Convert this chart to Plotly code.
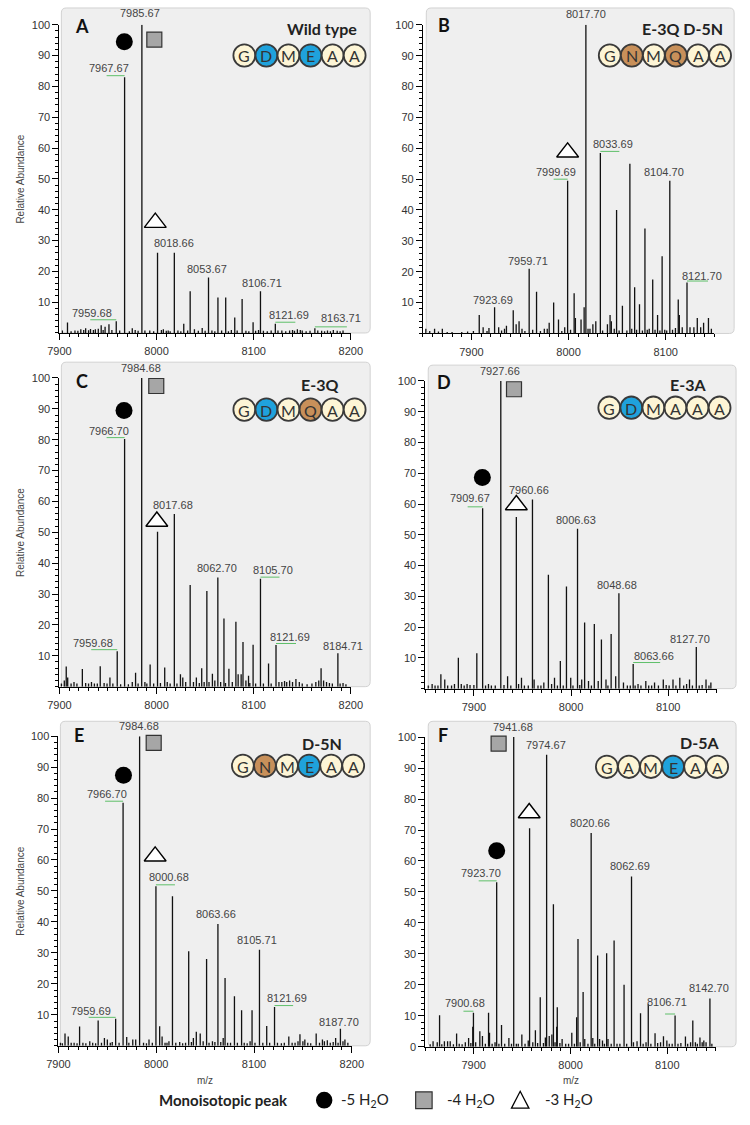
import plotly.graph_objects as go

W, H = 750, 1125

# ------------------------------------------------------------------ data
A_mz = [7903, 7908.3, 7912, 7916, 7919, 7922, 7925, 7927, 7930, 7932, 7935, 7937, 7940, 7943, 7945, 7947, 7951, 7954,
        7958.5, 7962, 7967.1, 7972, 7975, 7978, 7981, 7984.9, 7988, 7993, 7997, 8001, 8005, 8007, 8010, 8012, 8014,
        8018.3, 8022, 8025, 8028, 8032, 8034.6, 8039, 8043, 8047, 8050, 8053.5, 8057, 8060, 8063.2, 8067, 8071.2,
        8074, 8077, 8080.5, 8083, 8088.1, 8092, 8095, 8099.4, 8102, 8105, 8107, 8110, 8114, 8118, 8122.3, 8125,
        8129, 8133, 8137, 8140, 8142, 8145, 8148, 8150, 8154, 8158, 8163, 8166, 8170, 8173, 8176, 8179, 8182, 8186,
        8189, 8192]
A_int = [0.8, 3.4, 0.6, 0.8, 0.7, 1.2, 1.0, 1.5, 0.9, 1.3, 1.0, 1.2, 1.4, 2.5, 1.0, 2.0, 2.8, 1.0,
         3.8, 0.8, 83, 0.6, 1.5, 1.0, 0.7, 100, 0.8, 0.8, 0.6, 26, 1.0, 1.2, 0.7, 0.8, 0.6,
         26, 0.8, 0.6, 3, 0.8, 13.5, 1.2, 0.7, 1.6, 0.7, 18, 0.8, 0.6, 11.5, 0.8, 11.5,
         0.6, 1.0, 5, 0.8, 11, 0.7, 0.6, 3.5, 0.7, 1.0, 13.5, 0.7, 0.6, 0.8, 3, 0.8,
         0.8, 0.6, 0.8, 1.0, 0.7, 1.2, 1.0, 0.8, 0.6, 0.7, 1.5, 0.8, 0.7, 0.6, 0.8, 0.6, 1.0, 0.7,
         0.6, 0.8]
A_labels = ["7985.67", "7967.67", "8018.66", "8053.67", "8106.71", "8121.69", "8163.71", "7959.68"]
A_label_mz = [7984.9, 7967.1, 8018.3, 8053.5, 8107, 8122.3, 8163, 7958.5]

B_mz = [7853, 7857, 7862, 7866, 7870, 7875, 7880, 7890, 7896, 7902, 7908, 7912, 7916, 7918, 7923.8, 7928, 7931,
        7934, 7936, 7943, 7946, 7949, 7952, 7955, 7959.4, 7963, 7967, 7971, 7975, 7978, 7980, 7984.6, 7989.6, 7993,
        7996, 7999, 8002, 8005.7, 8007, 8012.8, 8016, 8017.8, 8020, 8022, 8025, 8028, 8032.7, 8035, 8040, 8042.7,
        8044, 8047, 8049.4, 8052, 8055.4, 8060, 8063.1, 8065, 8068, 8070, 8073, 8076, 8078.6, 8081, 8083, 8086.6,
        8089, 8091.6, 8094, 8096.3, 8099, 8101, 8104.2, 8107, 8110, 8112.9, 8114, 8117, 8121.9, 8125, 8129, 8132.5,
        8136, 8139, 8144, 8147]
B_int = [1.5, 0.8, 1.5, 0.6, 1.5, 0.5, 0.5, 0.5, 0.6, 0.8, 6, 2, 0.8, 1.8, 8.5, 2, 1.0,
         1.5, 2.5, 7.5, 3, 4, 1.5, 0.8, 21, 1.2, 13.5, 0.8, 1.5, 1.5, 3.5, 10, 4.5, 0.8,
         2, 49.5, 1.2, 13, 5, 4.5, 8.5, 100, 1.5, 1.5, 3, 4, 58.5, 1.0, 3, 6,
         4, 1.5, 40, 1.0, 9, 1.0, 55, 1.5, 15, 1.2, 9.5, 1.0, 34, 1.2, 1.5, 17.5,
         1.2, 6, 1.0, 25, 1.2, 1.0, 49.5, 1.2, 1.8, 11, 6, 2, 16.5, 2, 2, 5,
         2, 3.5, 5, 1.5]
B_labels = ["8017.70", "8033.69", "7999.69", "8104.70", "7959.71", "7923.69", "8121.70"]
B_label_mz = [8017.8, 8032.7, 7999, 8104.2, 7959.4, 7923.8, 8121.9]

C_mz = [7902, 7905, 7907, 7908.5, 7912, 7915, 7918, 7923.6, 7927, 7930, 7933, 7936, 7939, 7942, 7946, 7949, 7952,
        7955, 7959.5, 7963, 7967.1, 7971, 7975, 7978.4, 7981, 7984.7, 7988, 7990, 7993.4, 7997, 8001, 8004, 8008.4,
        8011, 8014, 8018.3, 8021, 8024.6, 8027, 8030, 8034.6, 8038, 8041, 8044, 8046.5, 8049, 8051.8, 8054, 8057.5,
        8060, 8063.1, 8066, 8069.4, 8071, 8074.5, 8078, 8081.7, 8084, 8087.1, 8089, 8092, 8094.7, 8096, 8099.4,
        8102, 8107, 8110, 8115.3, 8118, 8123, 8126, 8129, 8131.8, 8134, 8137, 8140, 8143.5, 8147, 8150, 8155, 8160,
        8164, 8167, 8169.4, 8172, 8175, 8178, 8181, 8186.7, 8189, 8192, 8195]
C_int = [1, 2, 6.5, 3, 1, 1.5, 1, 5.7, 1.2, 1, 1.5, 1, 1, 6.6, 1.2, 1, 3,
         1, 11.5, 0.8, 80.2, 0.8, 1.5, 4.5, 1, 100, 1.5, 1, 7.2, 1, 50.2, 1.2, 6.2,
         1.5, 1, 55.9, 1, 4, 3, 1.5, 32.9, 1.5, 3, 1.2, 6, 1.5, 31, 1.5, 4.2,
         2, 35.4, 1.5, 22.1, 1.2, 5.8, 1.5, 21, 4, 4, 14.5, 2, 3.5, 1.2, 13.6,
         1, 35, 1, 7.5, 1, 13.5, 1.5, 1.5, 1.8, 1.5, 2, 1.5, 2.5, 1.5, 1, 0.8, 1,
         1.5, 2, 6, 2, 1.5, 1.2, 1, 10.8, 1, 1.2, 0.8]
C_labels = ["7984.68", "7966.70", "8017.68", "8062.70", "8105.70", "8121.69", "8184.71", "7959.68"]
C_label_mz = [7984.7, 7967.1, 8018.3, 8063.1, 8107, 8123, 8186.7, 7959.5]

D_mz = [7853, 7857, 7860, 7863, 7866, 7870, 7873, 7877, 7880, 7884, 7887, 7890, 7893, 7896, 7900, 7903, 7909,
        7912, 7915, 7918, 7922, 7927.7, 7931, 7934.7, 7938, 7943.7, 7946, 7949, 7952, 7956, 7960.3, 7962, 7966,
        7969, 7972, 7976.7, 7980, 7983, 7986, 7989, 7992, 7995.3, 7999.7, 8002, 8006.7, 8009, 8011, 8014, 8018,
        8021, 8024, 8028, 8031.3, 8036, 8038, 8041.3, 8046, 8049.3, 8054, 8058, 8061, 8064, 8066, 8069, 8072,
        8077, 8080, 8083, 8086, 8090, 8095, 8098, 8101, 8105, 8108, 8112, 8116, 8119, 8122, 8125, 8129, 8132,
        8135, 8139, 8142, 8144]
D_int = [1, 1.5, 1, 1, 4.7, 3, 1, 1, 1.5, 10, 1.5, 1, 1.5, 1.2, 1.2, 11.5, 58.6,
         1, 1.5, 1, 1, 100, 1.2, 4, 1, 55.8, 1.5, 3.5, 1, 1, 61.5, 3, 1,
         1, 2, 37, 1.5, 3.5, 1, 9, 1, 33.2, 3.5, 1, 52, 1.2, 3, 21.5, 2.5,
         1, 21, 2.5, 16, 3, 1, 17.8, 4, 31, 2, 1, 1, 8, 1, 1.5, 1,
         2.5, 1, 1, 2, 1, 3, 1.2, 1, 3, 1, 3.5, 1, 1.5, 3, 1, 13.5, 1,
         1.2, 3, 1, 2]
D_labels = ["7927.66", "7909.67", "7960.66", "8006.63", "8048.68", "8127.70", "8063.66"]
D_label_mz = [7927.7, 7909, 7960.3, 8006.7, 8049.3, 8129, 8064]

E_mz = [7902, 7904, 7906.7, 7910, 7913, 7916, 7919, 7921.6, 7925, 7928, 7932, 7935, 7938, 7940.6, 7944, 7947, 7950,
        7953, 7955, 7958.5, 7962, 7966.1, 7969.8, 7972, 7976, 7979, 7983, 7987, 7990, 7992.6, 7996, 7999.7, 8003.5,
        8006, 8009, 8011, 8013, 8016.6, 8020, 8024, 8027, 8030, 8033.2, 8036, 8038, 8041, 8045, 8048, 8051.5, 8054,
        8057.5, 8060, 8063.1, 8066, 8068.5, 8070.4, 8073, 8076, 8080, 8083, 8087.3, 8090, 8093, 8096, 8098, 8101,
        8105.6, 8109, 8113, 8116, 8121, 8124, 8128, 8131, 8135.6, 8139, 8142, 8145, 8147, 8150, 8152, 8155, 8158,
        8163.6, 8167, 8170, 8172, 8175, 8178, 8181, 8183.5, 8186, 8188.4, 8191, 8193, 8196]
E_int = [1, 0.8, 4, 3, 1, 1, 0.8, 6.2, 1, 0.8, 1.5, 1, 0.8, 8.2, 1, 2.5, 2,
         1, 1.2, 8.7, 1, 78.5, 2.8, 1, 2, 2, 100, 1, 0.8, 2, 1, 51.5, 6.3,
         3, 1, 1, 1.5, 48.3, 1, 1.2, 0.8, 1, 30.5, 1.2, 2.5, 4.5, 4, 1.5, 28, 1,
         1.5, 1.2, 39.3, 1.2, 2.5, 21.9, 1, 1, 16, 1, 11.5, 1, 0.8, 1.5, 11.5, 1,
         31, 1, 6.4, 1, 12.5, 1, 0.8, 1, 3, 1, 1, 1.5, 3.7, 1.5, 2, 1, 0.8,
         4, 1, 2, 1.5, 1.8, 1, 1.2, 2.5, 1, 5.5, 1.5, 2, 1]
E_labels = ["7984.68", "7966.70", "8000.68", "8063.66", "8105.71", "8121.69", "7959.69", "8187.70"]
E_label_mz = [7983, 7966.1, 7999.7, 8063.1, 8105.6, 8121, 7958.5, 8188.4]

F_mz = [7855, 7858, 7862.3, 7864.7, 7867, 7869.7, 7873, 7875.7, 7879, 7882.3, 7885, 7888, 7891.3, 7894.7, 7897,
        7899, 7899.7, 7902, 7906.3, 7909, 7912, 7915.3, 7916.3, 7919, 7922, 7923.7, 7926, 7928.7, 7932, 7936.3,
        7939, 7941.3, 7944, 7946, 7949.7, 7953, 7956.3, 7957.7, 7961, 7963.7, 7966, 7968.7, 7972, 7974, 7975.3,
        7978, 7980.7, 7982.3, 7984, 7985.7, 7986.3, 7989, 7991.3, 7995, 7998, 8001.3, 8004, 8006.3, 8007.7, 8010,
        8013, 8014.7, 8018, 8021.3, 8023, 8025, 8028, 8030, 8033, 8035, 8037.3, 8038.7, 8042, 8045, 8048, 8051,
        8055.3, 8058, 8063, 8065, 8068.7, 8072.3, 8075, 8078, 8080.3, 8083, 8087.3, 8090, 8093, 8096, 8099.5,
        8102, 8105, 8108, 8111, 8114, 8118.7, 8121, 8124, 8126.3, 8129, 8131, 8133.7, 8136, 8137.7, 8140, 8144,
        8146]
F_int = [0.8, 1.8, 1.5, 10.2, 0.8, 1.8, 1.8, 1.8, 0.8, 4.3, 1, 0.8, 1.5, 2.8, 1.2,
         6.5, 11, 1.5, 5, 3.5, 1, 11, 4.5, 1, 1.5, 53.1, 1, 7, 1, 2.8,
         1, 100, 1, 1, 4, 1, 2, 70.6, 1.5, 5.3, 1.2, 16, 1.2, 3, 94.3,
         3.5, 4, 46, 1.5, 6.5, 12.8, 1.2, 2.5, 1, 1, 4.5, 1, 9.5, 34.8, 1.5,
         17.7, 2.5, 1, 69, 2.8, 1, 29.5, 2.5, 2, 1, 30.2, 2.5, 1, 34.3, 1, 1,
         20, 1, 55, 1.5, 1.8, 10.8, 1, 1.5, 13.7, 1, 4.4, 1.2, 1.5, 3.4, 2,
         1, 1, 10.1, 1, 1.2, 3.3, 1, 1.5, 8.5, 1.5, 1, 3, 1.5, 2, 1.5, 15.6,
         1]
F_labels = ["7941.68", "7974.67", "8020.66", "8062.69", "7923.70", "7900.68", "8106.71", "8142.70"]
F_label_mz = [7941.3, 7975.3, 8021.3, 8063, 7923.7, 7899.7, 8108, 8144]

panel_letters = ["A", "B", "C", "D", "E", "F"]
panel_titles = ["Wild type", "E-3Q D-5N", "E-3Q", "E-3A", "D-5N", "D-5A"]
sequences = [list("GDMEAA"), list("GNMQAA"), list("GDMQAA"), list("GDMAAA"), list("GNMEAA"), list("GAMEAA")]

# ------------------------------------------------------------------ styles / layout (pixels)
CREAM, BLUE, BROWN = "#FDF5D6", "#1FA2DC", "#C8905A"
res_color = {"D": BLUE, "E": BLUE, "N": BROWN, "Q": BROWN}


def fx(px):
    return px / W


def fy(py):
    return 1 - py / H


panels = [
    dict(mz=A_mz, inten=A_int, labels=A_labels, label_mz=A_label_mz,
         dx=[-2, -16, 0, -2, 1.5, 14, 26, -24], dy=[12, 9, 9.5, 8.5, 8.5, 8.5, 10, 8],
         xr=(7900, 8200), xpx=(49, 350), ypx=(330.5, 19), box=(51, 2, 370, 330.5),
         letter=(72, 20), title_pos=(320, 23), seq_pos=(240, 50),
         markers=[("circle", 7966.8, 94.5), ("square", 7997.7, 95.2), ("triangle", 7998.7, 35.8)],
         ytitle=True, xtitle=False, zero=False),
    dict(mz=B_mz, inten=B_int, labels=B_labels, label_mz=B_label_mz,
         dx=[0, 13, -12, -6, -1, -2, 15], dy=[11, 9, 9, 9, 7.5, 7, 7],
         xr=(7850, 8150), xpx=(424.5, 725.5), ypx=(331, 19), box=(428, 2, 746, 331),
         letter=(446, 19), title_pos=(693, 23), seq_pos=(617.5, 50),
         markers=[("triangle", 7999, 58.7)],
         ytitle=False, xtitle=False, zero=False),
    dict(mz=C_mz, inten=C_int, labels=C_labels, label_mz=C_label_mz,
         dx=[-1, -16, -1, -1, 13, 14, 5, -24], dy=[9.5, 8.5, 9, 9, 9, 7.5, 7, 8],
         xr=(7900, 8200), xpx=(49, 350), ypx=(688, 376), box=(51, 360, 370, 688),
         letter=(72, 379), title_pos=(318, 383), seq_pos=(240, 408),
         markers=[("circle", 7966.5, 89.5), ("square", 7999.7, 97.4), ("triangle", 8000.3, 53.5)],
         ytitle=True, xtitle=False, zero=False),
    dict(mz=D_mz, inten=D_int, labels=D_labels, label_mz=D_label_mz,
         dx=[-1, -13, -3, -2, -2, -6, 21], dy=[10, 10, 9, 9, 8, 8, 8],
         xr=(7850, 8150), xpx=(427, 728), ypx=(690, 379), box=(430, 363, 748, 690),
         letter=(446, 380), title_pos=(698, 383), seq_pos=(617, 406),
         markers=[("circle", 7908.7, 68.6), ("square", 7941.3, 97.3), ("triangle", 7943.7, 59.7)],
         ytitle=False, xtitle=False, zero=False),
    dict(mz=E_mz, inten=E_int, labels=E_labels, label_mz=E_label_mz,
         dx=[-1, -16, 13, -2, -2, 12.6, -25, -1], dy=[10, 9, 9.5, 10.5, 10, 9, 8, 7],
         xr=(7900, 8200), xpx=(48, 351), ypx=(1051, 738), box=(50, 723, 370, 1051),
         letter=(69, 737), title_pos=(320, 745), seq_pos=(238.5, 768),
         markers=[("circle", 7966.5, 87.4), ("square", 7997.4, 97.8), ("triangle", 7998.9, 61.2)],
         ytitle=True, xtitle=True, zero=False),
    dict(mz=F_mz, inten=F_int, labels=F_labels, label_mz=F_label_mz,
         dx=[-1, -1, -1, -2, -16, -8, -8, -1], dy=[10, 9.5, 10, 10, 9, 10, 14, 10],
         xr=(7850, 8150), xpx=(427, 727), ypx=(1052, 739), box=(430, 723, 748, 1052),
         letter=(445, 737), title_pos=(710, 744), seq_pos=(614.5, 769),
         markers=[("circle", 7923.7, 63.3), ("square", 7925.7, 97.9), ("triangle", 7957.3, 75.5)],
         ytitle=False, xtitle=True, zero=True),
]

TICKFONT = dict(family="Liberation Sans, Arial", size=11, color="#333333")
LABELFONT = dict(family="Liberation Sans, Arial", size=11, color="#444444")
BOLD = "Lato, Open Sans, sans-serif"

fig = go.Figure()
shapes = []
annotations = []
layout_axes = {}


def paper_text(px, py, text, font, xanchor="center", yanchor="middle", **kw):
    d = dict(x=fx(px), y=fy(py), xref="paper", yref="paper", text=text, showarrow=False,
             xanchor=xanchor, yanchor=yanchor, font=font)
    d.update(kw)
    annotations.append(d)


def rrect(x0, y0, x1, y1, r=5):
    return (f"M {fx(x0 + r)},{fy(y0)} L {fx(x1 - r)},{fy(y0)} Q {fx(x1)},{fy(y0)} {fx(x1)},{fy(y0 + r)} "
            f"L {fx(x1)},{fy(y1 - r)} Q {fx(x1)},{fy(y1)} {fx(x1 - r)},{fy(y1)} "
            f"L {fx(x0 + r)},{fy(y1)} Q {fx(x0)},{fy(y1)} {fx(x0)},{fy(y1 - r)} "
            f"L {fx(x0)},{fy(y0 + r)} Q {fx(x0)},{fy(y0)} {fx(x0 + r)},{fy(y0)} Z")


for i, p in enumerate(panels):
    n = i + 1
    sfx = "" if n == 1 else str(n)
    xref, yref = "x" + sfx, "y" + sfx

    bx0, by0, bx1, by1 = p["box"]
    shapes.append(dict(type="path", xref="paper", yref="paper", path=rrect(bx0, by0, bx1, by1),
                       fillcolor="#EFEFEF", line=dict(color="#D2D2D2", width=1), layer="below"))

    x0, x1 = p["xr"]
    xt = [v for v in range(7900, 8201, 100) if x0 <= v <= x1]
    layout_axes["xaxis" + sfx] = dict(
        domain=[fx(p["xpx"][0]), fx(p["xpx"][1])], range=[x0, x1], anchor=yref,
        showline=True, linecolor="black", linewidth=1, ticks="outside", ticklen=6, tickwidth=1,
        tickcolor="black", tickvals=xt, ticktext=[str(v) for v in xt], tickfont=TICKFONT,
        showgrid=False, zeroline=False, ticklabelstandoff=2,
        minor=dict(dtick=10, tick0=7900, ticks="outside", ticklen=3, tickcolor="black", showgrid=False))
    yt = list(range(0 if p["zero"] else 10, 101, 10))
    layout_axes["yaxis" + sfx] = dict(
        domain=[fy(p["ypx"][0]), fy(p["ypx"][1])], range=[0, 100], anchor=xref,
        showline=True, linecolor="black", linewidth=1, ticks="outside", ticklen=6, tickwidth=1,
        tickcolor="black", tickvals=yt, ticktext=[str(v) for v in yt], tickfont=TICKFONT,
        showgrid=False, zeroline=False,
        minor=dict(dtick=2, tick0=0, ticks="outside", ticklen=3, tickcolor="black", showgrid=False))

    xs, ys = [], []
    for m, h in zip(p["mz"], p["inten"]):
        xs += [m, m, None]
        ys += [0, h, None]
    fig.add_trace(go.Scatter(x=xs, y=ys, mode="lines", xaxis=xref, yaxis=yref,
                             line=dict(color="#111111", width=1.3), hoverinfo="skip", showlegend=False))

    for txt, lm, dx, dy in zip(p["labels"], p["label_mz"], p["dx"], p["dy"]):
        j = min(range(len(p["mz"])), key=lambda k: abs(p["mz"][k] - lm))
        pm, ph = p["mz"][j], p["inten"][j]
        annotations.append(dict(x=pm, y=ph, xref=xref, yref=yref, text=txt,
                                showarrow=False, xshift=dx, yshift=dy, xanchor="center", yanchor="middle",
                                font=LABELFONT))
        if abs(dx) >= 7:
            shapes.append(dict(type="line", xref=xref, yref=yref, xsizemode="pixel", ysizemode="pixel",
                               xanchor=pm, yanchor=ph, x0=0, x1=dx + (6 if dx > 0 else -2),
                               y0=1.5, y1=1.5, line=dict(color="#5FBF6A", width=1), layer="above"))

    for kind, mx, my in p["markers"]:
        if kind == "circle":
            mk = dict(symbol="circle", size=17, color="black", line=dict(width=0))
        elif kind == "square":
            mk = dict(symbol="square", size=15, color="#A6A6A6", line=dict(color="#333333", width=1.2))
        else:
            mk = dict(symbol="triangle-up", size=19, color="white", line=dict(color="black", width=1.4))
        fig.add_trace(go.Scatter(x=[mx], y=[my], mode="markers", xaxis=xref, yaxis=yref, marker=mk,
                                 cliponaxis=False, hoverinfo="skip", showlegend=False))

    paper_text(*p["letter"], f"<b>{panel_letters[i]}</b>", dict(family=BOLD, size=18, color="#111111"))
    paper_text(*p["title_pos"], f"<b>{panel_titles[i]}</b>", dict(family=BOLD, size=16, color="#222222"))

    sx, sy = p["seq_pos"]
    r = 11.3
    for k, aa in enumerate(sequences[i]):
        cx = sx + 22.8 * k
        shapes.append(dict(type="circle", xref="paper", yref="paper",
                           x0=fx(cx - r), x1=fx(cx + r), y0=fy(sy + r), y1=fy(sy - r),
                           fillcolor=res_color.get(aa, CREAM),
                           line=dict(color="#3A3A3A", width=1.8), layer="above"))
        paper_text(cx, sy + 0.5, aa, dict(family=BOLD, size=16, color="#333333"))

    if p["ytitle"]:
        paper_text(9, (p["ypx"][0] + p["ypx"][1]) / 2, "Relative Abundance",
                   dict(family="Liberation Sans, Arial", size=10, color="#444444"), textangle=-90)
    if p["xtitle"]:
        paper_text((p["xpx"][0] + p["xpx"][1]) / 2, 1086, "m/z",
                   dict(family="Liberation Sans, Arial", size=10, color="#444444"))

# ------------------------------------------------------------------ legend
LY = 1106
LF = dict(family=BOLD, size=15, color="#222222")
paper_text(287, LY, "<b>Monoisotopic peak</b>", LF, xanchor="right")
shapes.append(dict(type="circle", xref="paper", yref="paper", x0=fx(314), x1=fx(331), y0=fy(LY + 8.5),
                   y1=fy(LY - 8.5), fillcolor="black", line=dict(width=0)))
shapes.append(dict(type="rect", xref="paper", yref="paper", x0=fx(417), x1=fx(434), y0=fy(LY + 8.5),
                   y1=fy(LY - 8.5), fillcolor="#A6A6A6", line=dict(color="#333333", width=1.2)))
shapes.append(dict(type="path", xref="paper", yref="paper",
                   path=f"M {fx(516)},{fy(LY + 8)} L {fx(534)},{fy(LY + 8)} L {fx(525)},{fy(LY - 9)} Z",
                   fillcolor="white", line=dict(color="black", width=1.3)))
for lx, t in [(338, "-5 H<sub>2</sub>O"), (447, "-4 H<sub>2</sub>O"), (549, "-3 H<sub>2</sub>O")]:
    paper_text(lx, LY, t, LF, xanchor="left")

fig.update_layout(width=W, height=H, margin=dict(l=0, r=0, t=0, b=0), autosize=False,
                  paper_bgcolor="white", plot_bgcolor="rgba(0,0,0,0)", showlegend=False,
                  shapes=shapes, annotations=annotations, **layout_axes)

fig.write_html("out.html", config={"displayModeBar": False},
               post_script="document.body.style.margin='0px';document.body.style.overflow='hidden';")
